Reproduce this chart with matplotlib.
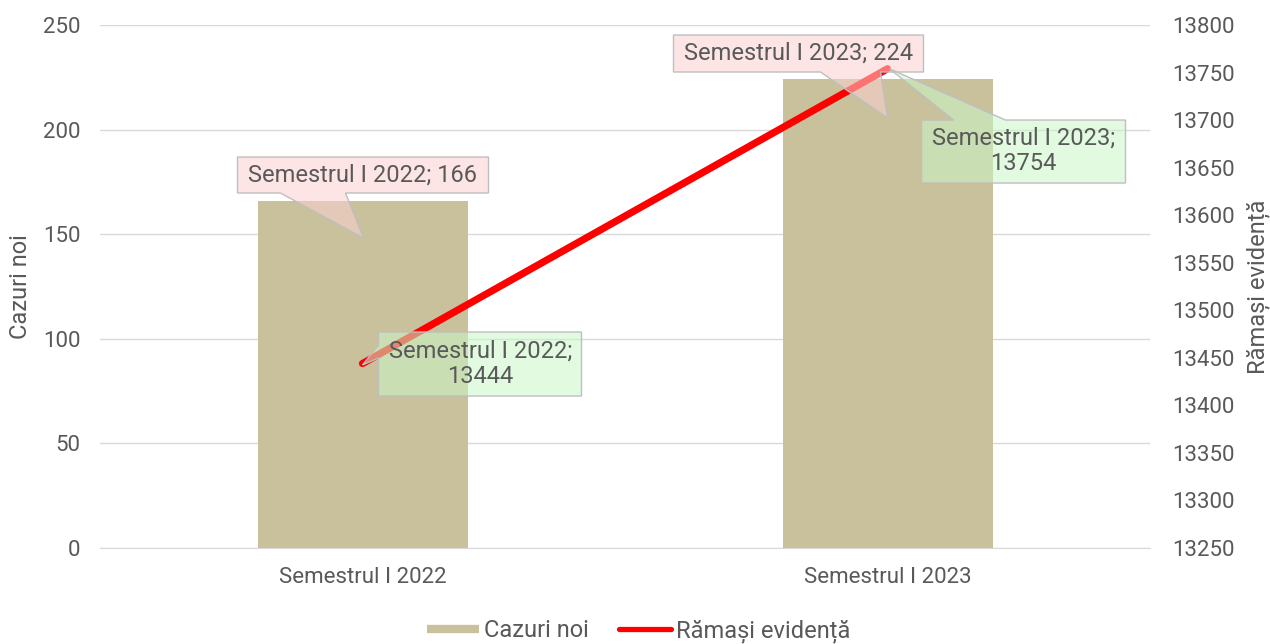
import matplotlib
matplotlib.use("Agg")
import numpy as np
import matplotlib.pyplot as plt
from matplotlib.patches import Polygon
from matplotlib.transforms import IdentityTransform
from matplotlib.lines import Line2D

categories = ["Semestrul I 2022", "Semestrul I 2023"]
cazuri_noi = [166, 224]
ramasi_evidenta = [13444, 13754]
left_ticks = [0, 50, 100, 150, 200, 250]
right_ticks = [13250, 13300, 13350, 13400, 13450, 13500, 13550, 13600, 13650, 13700, 13750, 13800]

TXT = "#595959"
BAR = "#c9c19c"
GRID = "#d9d9d9"
RED = "#ff0000"

plt.rcParams['font.family'] = ['Roboto', 'DejaVu Sans']
fig = plt.figure(figsize=(12.7, 6.44), dpi=100)
ax1 = fig.add_axes([100/1270, 1-548/644, 1050/1270, 523/644])
ax2 = ax1.twinx()

x = list(range(len(categories)))
ax1.bar(x, cazuri_noi, width=0.4, color=BAR, zorder=2)
ax1.set_xlim(-0.5, len(categories) - 0.5)
ax1.set_ylim(left_ticks[0], left_ticks[-1])
ax1.set_yticks(left_ticks)
ax1.set_xticks(x)
ax1.set_xticklabels(categories)
ax1.grid(axis='y', color=GRID, linewidth=1, zorder=0)
ax1.set_axisbelow(True)
ax1.set_ylabel("Cazuri noi", color=TXT, fontsize=17, labelpad=8)

ax2.plot(x, ramasi_evidenta, color=RED, linewidth=5.2, solid_capstyle='round', zorder=3)
ax2.set_ylim(right_ticks[0], right_ticks[-1])
ax2.set_yticks(right_ticks)
ax2.set_ylabel("Rămași evidență", color=TXT, fontsize=17, labelpad=8)

for ax in (ax1, ax2):
    for s in ax.spines.values():
        s.set_visible(False)
    ax.tick_params(axis='both', length=0, colors=TXT, labelsize=16)
ax1.spines['bottom'].set_visible(True)
ax1.spines['bottom'].set_color(GRID)
ax1.tick_params(axis='x', pad=14)
ax1.tick_params(axis='y', pad=14)
ax2.tick_params(axis='y', pad=16)

PINK = (0.99, 0.82, 0.82, 0.55)
GREEN = (0.79, 0.97, 0.78, 0.55)
EDGE = "#bfbfbf"

# callout outlines as pixel offsets (x right, y up) from the anchored data point
bar_shapes = [
    [(-125, 43.7), (126, 43.7), (126, 7.7), (-17, 7.7), (1, -37.3), (-82, 7.7), (-125, 7.7)],
    [(-214, 44.4), (36, 44.4), (36, 7.4), (-7, 7.4), (0, -38.6), (-67, 7.4), (-214, 7.4)],
]
bar_text = [(0, 25.7), (-89, 26.4)]
line_shapes = [
    [(16, 31.5), (219, 31.5), (219, -32.5), (16, -32.5), (16, 5.5), (0, -1.5), (16, 18.5)],
    [(34, -51.3), (66, -51.3), (2, 0), (118, -51.3), (238, -51.3), (238, -114.3), (34, -114.3)],
]
line_text = [(118, -0.5), (136, -82.3)]

def callout(ax, xy, shape, toff, label, fc):
    p = ax.transData.transform(xy)
    verts = np.array(shape, dtype=float) + p
    poly = Polygon(verts, closed=True, fc=fc, ec=EDGE, lw=1.0, transform=IdentityTransform(), zorder=5)
    ax2.add_patch(poly)
    ax2.text(p[0] + toff[0], p[1] + toff[1], label, transform=IdentityTransform(), ha='center',
             va='center', fontsize=17, color=TXT, zorder=6, linespacing=1.15)

for i, v in enumerate(cazuri_noi):
    callout(ax1, (i, v), bar_shapes[i], bar_text[i], f"{categories[i]}; {v}", PINK)
for i, v in enumerate(ramasi_evidenta):
    callout(ax2, (i, v), line_shapes[i], line_text[i], f"{categories[i]};\n{v}", GREEN)

handles = [Line2D([0], [0], color=BAR, lw=6, solid_capstyle='butt', label="Cazuri noi"),
           Line2D([0], [0], color=RED, lw=3.8, solid_capstyle='round', label="Rămași evidență")]
fig.legend(handles=handles, loc='center', bbox_to_anchor=(0.503, 1-631/644), ncol=2, frameon=False,
           fontsize=17, labelcolor=TXT, handlelength=2.2, handletextpad=0.2, columnspacing=1.3)

fig.savefig("out.png", dpi=100)
